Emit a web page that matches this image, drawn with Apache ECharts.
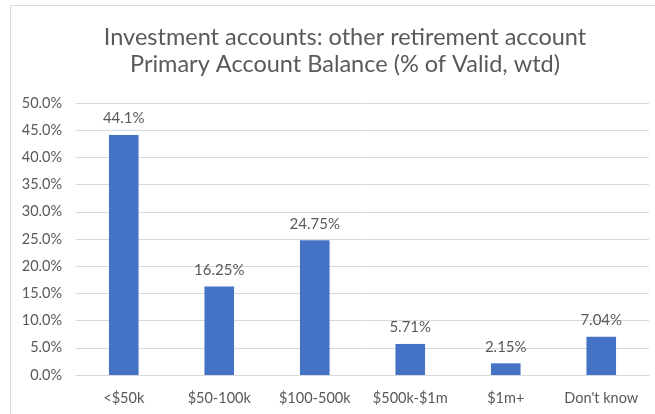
<!DOCTYPE html>
<html>
<head>
<meta charset="utf-8">
<script src="https://cdn.jsdelivr.net/npm/echarts@6/dist/echarts.min.js"></script>
<style>
  html, body { margin: 0; padding: 0; background: #fff; }
  #main { width: 655px; height: 414px; }
</style>
</head>
<body>
<div id="main"></div>
<script>
// 账户余额分布
var categories = ['<$50k', '$50-100k', '$100-500k', '$500k-$1m', '$1m+', "Don't know"];
var values = [44.1, 16.25, 24.75, 5.71, 2.15, 7.04];
var valueLabels = ['44.1%', '16.25%', '24.75%', '5.71%', '2.15%', '7.04%'];

var myChart = echarts.init(document.getElementById('main'));
var textColor = '#595959';

option = {
    animation: false,
    title: {
        text: 'Investment accounts: other retirement account\nPrimary Account Balance (% of Valid, wtd)',
        left: 340,
        top: 19,
        textAlign: 'center',
        textStyle: {
            fontFamily: 'Lato',
            fontSize: 23.5,
            fontWeight: 'normal',
            color: textColor,
            lineHeight: 27
        }
    },
    graphic: [
        {
            // 外边框
            type: 'rect',
            shape: { x: 10.5, y: 5.5, width: 700, height: 450 },
            style: { fill: 'none', stroke: '#D9D9D9', lineWidth: 1 },
            silent: true
        }
    ],
    grid: {
        left: 76,
        right: 6,
        top: 103,
        bottom: 39
    },
    xAxis: {
        type: 'category',
        data: categories,
        axisTick: { show: false },
        axisLine: { lineStyle: { color: '#D9D9D9' } },
        axisLabel: {
            interval: 0,
            fontFamily: 'Lato',
            fontSize: 14.5,
            color: textColor,
            margin: 16
        }
    },
    yAxis: {
        type: 'value',
        min: 0,
        max: 50,
        interval: 5,
        axisLine: { show: false },
        axisTick: { show: false },
        splitLine: { lineStyle: { color: '#D9D9D9' } },
        axisLabel: {
            fontFamily: 'Lato',
            fontSize: 14.5,
            color: textColor,
            margin: 14,
            formatter: function (v) {
                return v.toFixed(1) + '%';
            }
        }
    },
    series: [
        {
            type: 'bar',
            data: values,
            barWidth: '31%',
            itemStyle: { color: '#4472C4' },
            label: {
                show: true,
                position: 'top',
                distance: 9,
                fontFamily: 'Lato',
                fontSize: 15,
                color: textColor,
                formatter: function (p) {
                    return valueLabels[p.dataIndex];
                }
            }
        }
    ]
};
myChart.setOption(option);
</script>
</body>
</html>
